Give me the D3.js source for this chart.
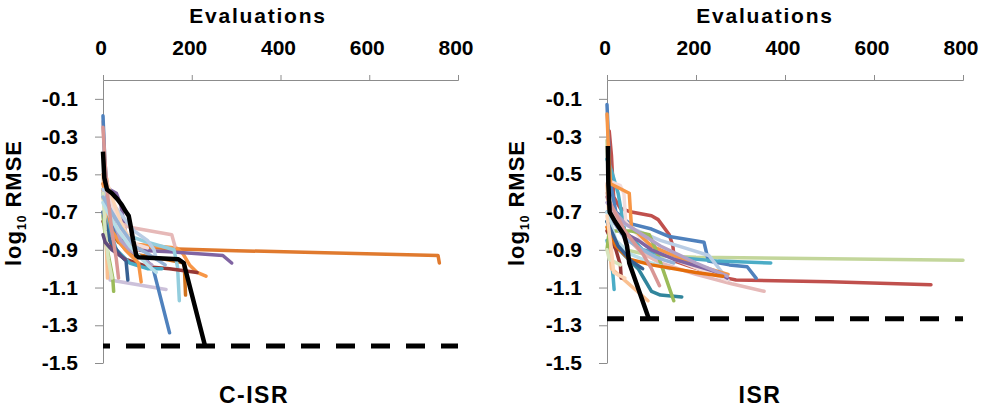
<!DOCTYPE html>
<html>
<head>
<meta charset="utf-8">
<script src="https://cdn.jsdelivr.net/npm/d3@7/dist/d3.min.js"></script>
<style>
  body { margin: 0; background: #fff; }
  text { font-family: "Liberation Sans", Arial, sans-serif; font-weight: bold; fill: #000; }
</style>
</head>
<body>
<div class="container"></div>
<script>
const evalTicks = [0, 200, 400, 600, 800];
const rmseTicks = [-1.5, -1.3, -1.1, -0.9, -0.7, -0.5, -0.3, -0.1];

// C-ISR runs: [evaluations, log10 RMSE]
const cisrRuns = [
  [[0,-0.62],[15,-0.78],[35,-0.86],[70,-0.88],[150,-0.895],[300,-0.905],[500,-0.915],[755,-0.93],[758,-0.97]],
  [[0,-0.58],[20,-0.82],[60,-0.92],[140,-0.95],[183,-0.97],[186,-1.14]],
  [[0,-0.5],[8,-0.52],[15,-0.70],[35,-0.84],[70,-0.87],[120,-0.88],[165,-0.89],[180,-0.92],[195,-0.98],[212,-1.02],[232,-1.04]],
  [[0,-0.55],[15,-0.58],[30,-0.60],[40,-0.66],[50,-0.80],[58,-0.90],[150,-0.91],[270,-0.93],[290,-0.97]],
  [[0,-0.22],[3,-0.40],[8,-0.60],[30,-0.75],[60,-0.78],[155,-0.82],[162,-0.88]],
  [[0,-0.70],[10,-0.95],[16,-1.06],[142,-1.11]],
  [[0,-0.60],[20,-0.75],[50,-0.82],[100,-0.86],[160,-0.90],[168,-0.99],[172,-1.17]],
  [[0,-0.19],[4,-0.42],[10,-0.62],[25,-0.80],[60,-0.90],[100,-0.96],[113,-1.0],[150,-1.34]],
  [[0,-0.75],[20,-0.88],[50,-0.95],[100,-0.99],[150,-1.0],[212,-1.02]],
  [[0,-0.60],[10,-0.75],[30,-0.90],[60,-0.97],[100,-1.0],[133,-1.0]],
  [[0,-0.72],[8,-0.88],[18,-1.0],[22,-1.05],[24,-1.12]],
  [[0,-0.50],[5,-0.70],[8,-0.90],[10,-1.05]],
  [[0,-0.55],[20,-0.80],[50,-0.90],[80,-0.97],[86,-1.07]],
  [[0,-0.70],[15,-0.85],[40,-0.93],[52,-0.96],[56,-1.06]],
  [[0,-0.58],[10,-0.62],[30,-0.68],[50,-0.74],[70,-0.80],[100,-0.85],[115,-0.90],[120,-0.95]],
  [[0,-0.60],[20,-0.72],[40,-0.85],[60,-0.90],[90,-0.95],[110,-0.98]],
  [[0,-0.50],[10,-0.56],[25,-0.70],[40,-0.80],[60,-0.86],[100,-0.89]],
  [[0,-0.60],[5,-0.80],[12,-0.95],[20,-1.05]],
  [[0,-0.65],[15,-0.72],[35,-0.80],[60,-0.88],[80,-0.93],[100,-0.98],[120,-1.02]],
  [[0,-0.50],[10,-0.55],[20,-0.62],[40,-0.75],[55,-0.82],[80,-0.90]],
  [[0,-0.82],[5,-0.86],[20,-0.90],[50,-0.95]],
  [[0,-0.62],[20,-0.70],[40,-0.78],[70,-0.88],[100,-0.92],[140,-0.98]],
  [[0,-0.25],[5,-0.45],[10,-0.60],[20,-0.80],[30,-0.95],[35,-1.05]]
];
const cisrBest = [[0,-0.38],[3,-0.52],[9,-0.58],[20,-0.60],[32,-0.63],[42,-0.66],[52,-0.70],[58,-0.72],[62,-0.77],[68,-0.85],[75,-0.93],[80,-0.94],[170,-0.95],[182,-0.97],[230,-1.41]];
const cisrTarget = -1.41;

// ISR runs
const isrRuns = [
  [[0,-0.32],[3,-0.55],[6,-0.75],[15,-0.85],[40,-0.90],[100,-0.93],[200,-0.94],[400,-0.945],[800,-0.955]],
  [[5,-0.27],[10,-0.40],[15,-0.62],[30,-0.68],[55,-0.70],[100,-0.72],[115,-0.74],[140,-0.82],[148,-0.88],[152,-0.96],[190,-0.99],[270,-1.05],[290,-1.06],[500,-1.07],[728,-1.085]],
  [[0,-0.13],[3,-0.30],[8,-0.55],[20,-0.70],[50,-0.76],[100,-0.79],[140,-0.83],[218,-0.86],[228,-0.96],[275,-0.98],[315,-0.99],[335,-1.05]],
  [[0,-0.42],[10,-0.48],[25,-0.60],[40,-0.80],[80,-0.90],[150,-0.94],[250,-0.96],[368,-0.97]],
  [[0,-0.62],[10,-0.70],[30,-0.75],[60,-0.79],[120,-0.85],[229,-0.93],[272,-1.06]],
  [[0,-0.60],[20,-0.75],[50,-0.85],[80,-0.92],[120,-0.97],[200,-1.03],[280,-1.08],[353,-1.12]],
  [[0,-0.75],[20,-0.88],[40,-0.93],[70,-1.0],[85,-1.06],[100,-1.12],[120,-1.14],[168,-1.15]],
  [[0,-0.85],[10,-0.95],[14,-1.05],[16,-1.11]],
  [[0,-0.55],[5,-0.75],[8,-0.95],[10,-1.0],[92,-1.17]],
  [[0,-0.55],[10,-0.54],[30,-0.56],[38,-0.60],[42,-0.75],[80,-0.85],[150,-0.95],[270,-1.06]],
  [[0,-0.80],[20,-0.90],[30,-0.98],[32,-1.05]],
  [[0,-0.18],[3,-0.35],[8,-0.55],[50,-0.60],[55,-0.78],[100,-0.88],[200,-0.98],[272,-1.03]],
  [[0,-0.90],[5,-0.80],[20,-0.80],[55,-0.80],[95,-0.82],[110,-0.90],[125,-1.0],[150,-1.17]],
  [[0,-0.70],[30,-0.80],[70,-0.85],[100,-0.90],[150,-0.95],[250,-1.02],[270,-1.05]],
  [[0,-0.65],[40,-0.76],[80,-0.82],[120,-0.88],[200,-0.97],[270,-1.04]],
  [[0,-0.70],[40,-0.84],[80,-0.90],[110,-0.94],[150,-0.97]],
  [[0,-0.70],[20,-0.85],[50,-0.92],[100,-0.97],[140,-1.0]],
  [[0,-0.78],[20,-0.88],[50,-0.95],[100,-0.98],[200,-1.02],[260,-1.04]],
  [[0,-0.62],[40,-0.80],[80,-0.92],[100,-1.0],[118,-1.09]],
  [[0,-0.75],[25,-0.88],[55,-0.96],[80,-1.0]],
  [[0,-0.90],[5,-0.95],[30,-0.98]],
  [[0,-0.72],[10,-0.90],[15,-1.02],[40,-1.05]]
];
const isrBest = [[2,-0.35],[3,-0.55],[6,-0.70],[18,-0.75],[38,-0.82],[45,-0.88],[50,-0.97],[94,-1.265]];
const isrTarget = -1.265;

// line colours, one per run (Excel 2007 style palette)
const cisrColors = ['#E07A2E','#D0721E','#F79646','#8064A2','#E6B9B8','#CCC1DA','#93CDDD','#4F81BD',
  '#953735','#4BACC6','#9BBB59','#FAC090','#F79646','#376092','#B9CDE5','#B3A2C7','#F2DCDB',
  '#D7E4BD','#B7DEE8','#FCD5B5','#604A7B','#95B3D7','#D99694'];
const isrColors = ['#C3D69B','#C0504D','#4F81BD','#4BACC6','#B9CDE5','#E6B9B8','#31859C','#4BACC6',
  '#FAC090','#F2DCDB','#953735','#F79646','#9BBB59','#8064A2','#B3A2C7','#95B3D7','#B7DEE8',
  '#E46C0A','#D99694','#376092','#D7E4BD','#FCD5B5'];

const width = 982, height = 410;
const plotTop = 80, plotBottom = 363;

const svg = d3.select('.container')
  .append('svg')
  .attr('width', width)
  .attr('height', height);

function drawPanel(opts) {
  const xScale = d3.scaleLinear().domain([0, 800]).range([opts.left, opts.right]);
  const yScale = d3.scaleLinear().domain([-1.5, 0]).range([plotBottom, plotTop]);
  const g = svg.append('g');

  // axes: x on top (crosses at y max), y on the left
  g.append('g')
    .attr('transform', `translate(0,${plotTop})`)
    .call(d3.axisTop(xScale).tickValues(evalTicks).tickSize(5).tickFormat(''))
    .call(ax => ax.selectAll('path, line').attr('stroke', '#8c8c8c'));
  g.append('g')
    .attr('transform', `translate(${opts.left},0)`)
    .call(d3.axisLeft(yScale).tickValues(rmseTicks).tickSize(8).tickSizeOuter(0).tickFormat(''))
    .call(ax => ax.selectAll('path, line').attr('stroke', '#8c8c8c'));

  g.selectAll('.xlab')
    .data(evalTicks)
    .enter().append('text')
    .attr('x', d => xScale(d) - 2)
    .attr('y', 55)
    .attr('text-anchor', 'middle')
    .style('font-size', '21px')
    .text(d => d);
  g.selectAll('.ylab')
    .data(rmseTicks)
    .enter().append('text')
    .attr('x', opts.left - 25)
    .attr('y', d => yScale(d) + 7)
    .attr('text-anchor', 'end')
    .style('font-size', '21px')
    .text(d => d3.format('.1f')(d).replace('−', '-'));

  g.append('text')
    .attr('x', opts.evalX)
    .attr('y', 23)
    .attr('text-anchor', 'middle')
    .style('font-size', '21px')
    .style('letter-spacing', '1.8px')
    .text('Evaluations');

  const yt = g.append('text')
    .attr('transform', `translate(${opts.titleX},203) rotate(-90)`)
    .attr('text-anchor', 'middle')
    .style('font-size', '22px')
    .style('letter-spacing', '1px');
  yt.append('tspan').text('log');
  yt.append('tspan').attr('dy', 5).style('font-size', '12px').text('10');
  yt.append('tspan').attr('dy', -5).text(' RMSE');

  g.append('text')
    .attr('x', opts.nameX)
    .attr('y', 403)
    .attr('text-anchor', 'middle')
    .style('font-size', '23px')
    .style('letter-spacing', '1.5px')
    .text(opts.name);

  const line = d3.line().x(d => xScale(d[0])).y(d => yScale(d[1]));

  g.append('g')
    .selectAll('path')
    .data(opts.runs)
    .enter().append('path')
    .attr('d', line)
    .style('fill', 'none')
    .style('stroke', (d, i) => opts.colors[i])
    .style('stroke-width', '3.5px')
    .style('stroke-linejoin', 'round')
    .style('stroke-linecap', 'round');

  // target level
  g.append('path')
    .attr('d', line([[0, opts.target], [800, opts.target]]))
    .style('fill', 'none')
    .style('stroke', '#000')
    .style('stroke-width', '5px')
    .style('stroke-dasharray', '19,16')
    .style('stroke-dashoffset', opts.dashOffset);

  g.append('path')
    .attr('d', line(opts.best))
    .style('fill', 'none')
    .style('stroke', '#000')
    .style('stroke-width', '4.5px')
    .style('stroke-linejoin', 'round');
}

drawPanel({left: 103, right: 458, runs: cisrRuns, colors: cisrColors, best: cisrBest,
  target: cisrTarget, name: 'C-ISR', nameX: 254, evalX: 258, titleX: 21, dashOffset: 12});
drawPanel({left: 607, right: 963, runs: isrRuns, colors: isrColors, best: isrBest,
  target: isrTarget, name: 'ISR', nameX: 760, evalX: 765, titleX: 524, dashOffset: 2});
</script>
</body>
</html>
